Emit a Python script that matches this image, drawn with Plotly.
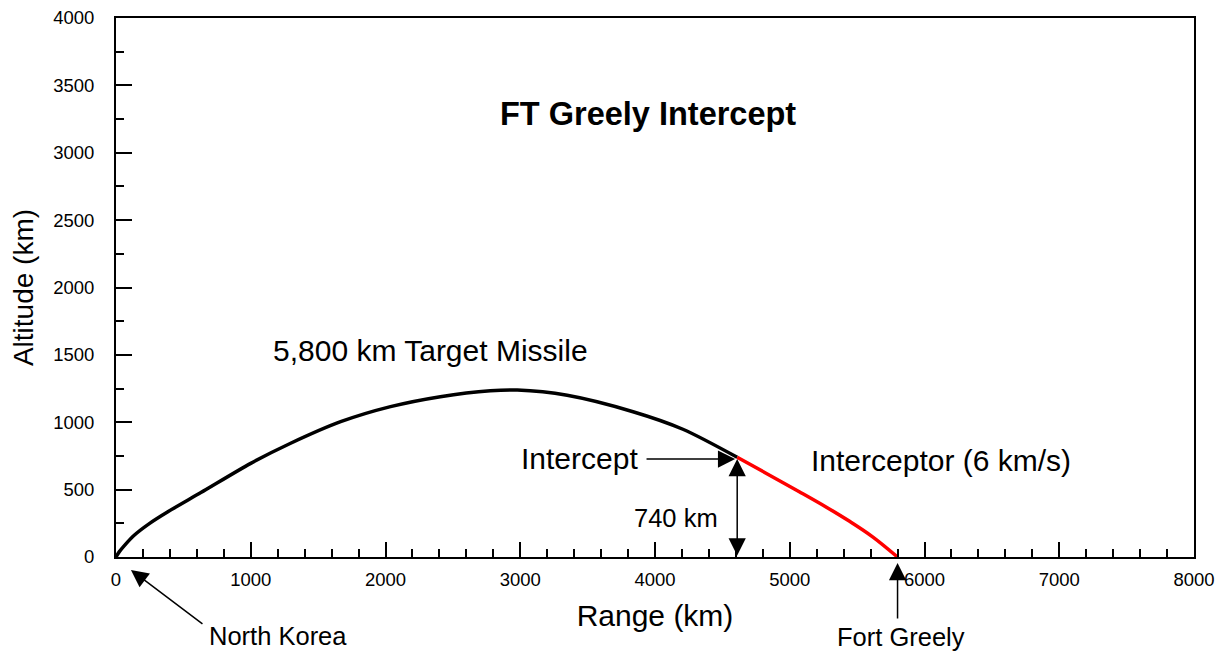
import plotly.graph_objects as go

# Target missile trajectory (km)
target_range = [0, 25, 62, 133, 250, 385, 630, 1000, 1296, 1667, 2037, 2407, 2778, 2978, 3348, 3837, 4207, 4610]
target_alt = [0, 40, 85, 160, 250, 336, 478, 695, 844, 1004, 1116, 1190, 1234, 1239, 1200, 1078, 948, 740]

# Interceptor trajectory (km)
interceptor_range = [4610, 4827, 5074, 5272, 5444, 5615, 5800]
interceptor_alt = [740, 620, 483, 370, 265, 150, 0]

intercept_point = (4610, 740)
fort_greely_range = 5800

x_ticks = [0, 1000, 2000, 3000, 4000, 5000, 6000, 7000, 8000]
y_ticks = [0, 500, 1000, 1500, 2000, 2500, 3000, 3500, 4000]
Y_MAX = 4000

FONT = "Arial, Liberation Sans, sans-serif"

fig = go.Figure()
fig.add_trace(go.Scatter(x=target_range, y=target_alt, mode="lines",
                         line=dict(color="black", width=3.5, shape="spline", smoothing=0.8),
                         showlegend=False, hoverinfo="skip"))
fig.add_trace(go.Scatter(x=interceptor_range, y=interceptor_alt, mode="lines",
                         line=dict(color="#ff0000", width=3.5, shape="spline"),
                         showlegend=False, hoverinfo="skip"))

ann = []
def text(x, alt, s, size, bold=False):
    ann.append(dict(x=x, y=alt / Y_MAX, xref="x", yref="paper", text=f"<b>{s}</b>" if bold else s,
                    showarrow=False, font=dict(family=FONT, size=size, color="black"),
                    xanchor="center", yanchor="middle"))

AH = dict(text="", showarrow=True, arrowhead=2, arrowsize=2.3, arrowwidth=1.5,
          arrowcolor="black", startarrowhead=2, startarrowsize=2.3)

def arrow_data(x, y, ax, ay, both=False):
    ann.append(dict(x=x, y=y, ax=ax, ay=ay, xref="x", yref="y", axref="x", ayref="y",
                    arrowside="end+start" if both else "end", **AH))

def arrow_px(x, alt, ax_px, ay_px):
    ann.append(dict(x=x, y=alt / Y_MAX, xref="x", yref="paper", ax=ax_px, ay=ay_px,
                    axref="pixel", ayref="pixel", arrowside="end", **AH))

text(3948, 3291, "FT Greely Intercept", 32.5, bold=True)
text(2333, 1530, "5,800 km Target Missile", 30)
text(3437, 732, "Intercept", 30)
text(6126, 718, "Interceptor (6 km/s)", 30)
text(4156, 289, "740 km", 25.5)
text(1200, -586, "North Korea", 25.5)
text(5822, -594, "Fort Greely", 25.5)

arrow_data(4595, 727, 3926, 727)
arrow_data(intercept_point[0], 728, intercept_point[0], 0, both=True)
arrow_px(111, -96, 73, 55)
arrow_px(fort_greely_range, -45, 0, 57)

# page body adds an 8px offset; size/margins compensate so the plot area lands where the reference has it
fig.update_layout(
    width=1217, height=644,
    margin=dict(l=108, r=31, t=10, b=95, autoexpand=False),
    paper_bgcolor="white", plot_bgcolor="white",
    font=dict(family=FONT, color="black"),
    annotations=ann,
)
fig.update_xaxes(range=[0, 8000], tickvals=x_ticks, ticks="inside", ticklen=15, tickwidth=2,
                 tickcolor="black", showline=True, linewidth=2, linecolor="black", mirror=True,
                 showgrid=False, zeroline=False, tickfont=dict(size=18.5, family=FONT),
                 ticklabelstandoff=5, automargin=False, ticklabeloverflow="allow",
                 minor=dict(dtick=200, ticks="inside", ticklen=8, tickwidth=2, tickcolor="black", showgrid=False),
                 title=dict(text="Range (km)", font=dict(size=30, family=FONT), standoff=16))
fig.update_yaxes(range=[0, 4000], tickvals=y_ticks, ticks="inside", ticklen=16, tickwidth=2,
                 tickcolor="black", showline=True, linewidth=2, linecolor="black", mirror=True,
                 showgrid=False, zeroline=False, tickfont=dict(size=18.5, family=FONT),
                 ticklabelstandoff=16, automargin=False, ticklabeloverflow="allow",
                 minor=dict(dtick=250, ticks="inside", ticklen=8, tickwidth=2, tickcolor="black", showgrid=False),
                 title=dict(text="Altitude (km)", font=dict(size=28, family=FONT), standoff=14))

fig.write_html("out.html")
